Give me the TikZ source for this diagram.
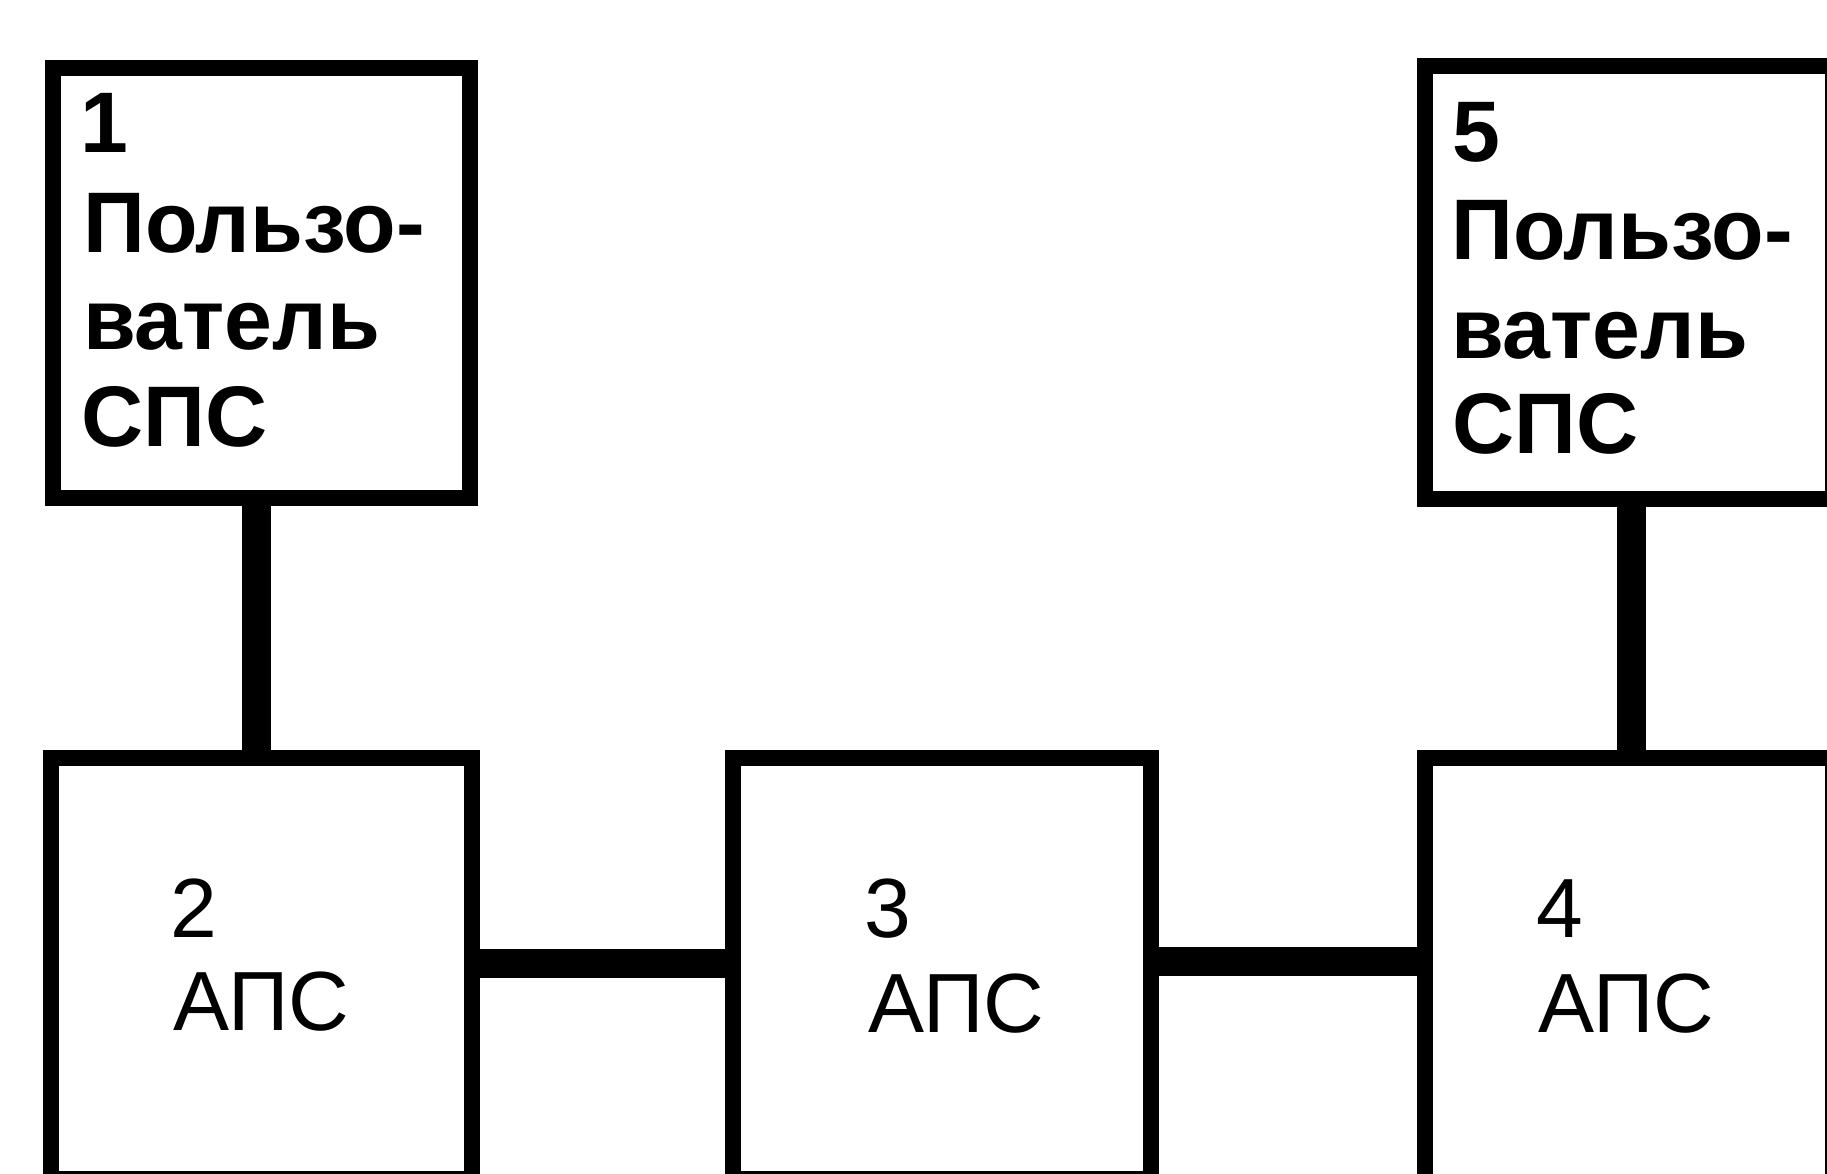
\documentclass[tikz,border=0pt]{standalone}
\usepackage{fontspec}
\setmainfont{Liberation Sans}
\begin{document}
\begin{tikzpicture}[x=1pt,y=-1pt,
  box/.style={draw=black,line width=16pt,rectangle,inner sep=0pt,anchor=north west},
  conn/.style={draw=black,line width=29pt},
  toptxt/.style={anchor=base west,inner sep=0pt,font=\fontsize{86}{98}\selectfont\bfseries},
  bottxt/.style={anchor=base west,inner sep=0pt,font=\fontsize{84}{96}\selectfont}]
\useasboundingbox[fill=white] (0,0) rectangle (1827,1174);
% boxes
\node[box,minimum width=417pt,minimum height=430pt] (b1) at (45,60) {};
\node[box,minimum width=421pt,minimum height=421pt] (b2) at (43,750) {};
\node[box,minimum width=418pt,minimum height=421pt] (b3) at (725,750) {};
\node[box,minimum width=408pt,minimum height=425pt] (b4) at (1417,750) {};
\node[box,minimum width=408pt,minimum height=433pt] (b5) at (1417,58) {};
% connector positions
\coordinate (v1) at (256,0);
\coordinate (v2) at (1631,0);
\coordinate (h1) at (0,963);
\coordinate (h2) at (0,961);
% connectors
\draw[conn] (b1.south -| v1) -- (b2.north -| v1);
\draw[conn] (b5.south -| v2) -- (b4.north -| v2);
\draw[conn] (b2.east |- h1) -- (b3.west |- h1);
\draw[conn] (b3.east |- h2) -- (b4.west |- h2);
% texts box 1
\node[toptxt] (t1a) at (80,153) {1};
\node[toptxt] (t1b) at (83,253) {Пользо-};
\node[toptxt] (t1c) at (83,349) {ватель};
\node[toptxt] (t1d) at (81,446) {СПС};
% texts box 5
\node[toptxt] (t5a) at (1452,162) {5};
\node[toptxt] (t5b) at (1451,260) {Пользо-};
\node[toptxt] (t5c) at (1451,358) {ватель};
\node[toptxt] (t5d) at (1452,453) {СПС};
% bottom texts
\node[bottxt] (t2a) at (170,937) {2};
\node[bottxt] (t2b) at (173,1030) {АПС};
\node[bottxt] (t3a) at (864,937) {3};
\node[bottxt] (t3b) at (868,1032) {АПС};
\node[bottxt] (t4a) at (1536,937) {4};
\node[bottxt] (t4b) at (1538,1032) {АПС};
\end{tikzpicture}
\end{document}
